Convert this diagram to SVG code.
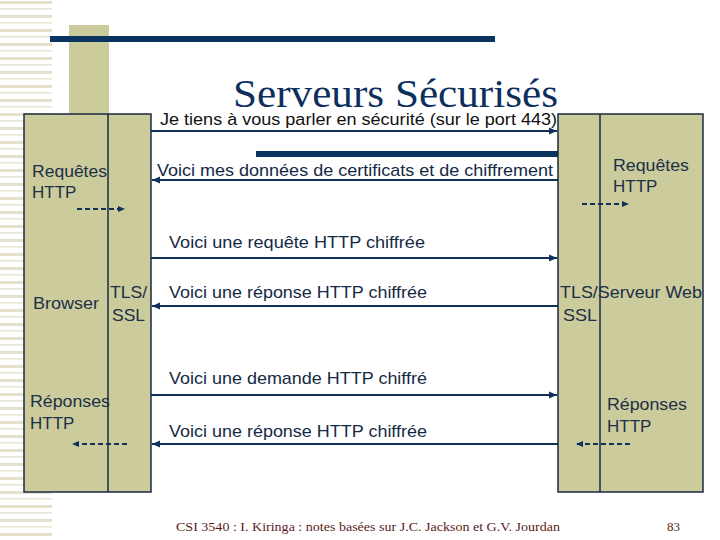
<svg xmlns="http://www.w3.org/2000/svg" width="720" height="540" viewBox="0 0 720 540">
<defs>
<pattern id="stripes" x="0" y="0" width="52" height="14" patternUnits="userSpaceOnUse">
<rect x="0" y="1" width="52" height="3" fill="#e4e2cc"/>
<rect x="0" y="8" width="52" height="1.6" fill="#e8e6d4"/>
</pattern>
<marker id="ah" markerUnits="userSpaceOnUse" markerWidth="9" markerHeight="8" refX="8" refY="4" orient="auto">
<path d="M0,0.5 L8,4 L0,7.5 z" fill="#10305a"/>
</marker>
<marker id="ahs" markerUnits="userSpaceOnUse" markerWidth="8" markerHeight="7" refX="7" refY="3.5" orient="auto">
<path d="M0,0.5 L7,3.5 L0,6.5 z" fill="#10305a"/>
</marker>
</defs>
<style>
.box{fill:#cccb9b;stroke:#1a2a40;stroke-width:1.5}
.div{stroke:#1a2a40;stroke-width:1.5}
.lbl{font-family:"Liberation Sans",Arial,sans-serif;font-size:17px;fill:#1c3048}
.msg{font-family:"Liberation Sans",Arial,sans-serif;font-size:17px;fill:#152a45}
.conn{stroke:#10305a;stroke-width:2;fill:none;marker-end:url(#ah)}
.dash{stroke:#10305a;stroke-width:2;fill:none;stroke-dasharray:5,3;marker-end:url(#ahs)}
</style>
<rect width="720" height="540" fill="#ffffff"/>
<rect x="0" y="0" width="52" height="540" fill="url(#stripes)"/>
<rect x="69" y="25" width="40" height="90" fill="#cccb9b"/>
<rect x="50" y="36" width="445" height="6" fill="#0b3360"/>
<rect x="256" y="151" width="302" height="6" fill="#0b3360"/>
<text x="233" y="107" font-family="'Liberation Serif','Times New Roman',serif" font-size="40" fill="#0d2f5e" textLength="325" lengthAdjust="spacingAndGlyphs">Serveurs Sécurisés</text>
<g id="browser">
<rect class="box" x="24" y="114" width="127" height="378"/>
<line class="div" x1="108" y1="114" x2="108" y2="492"/>
<text class="lbl" x="32" y="177" textLength="75" lengthAdjust="spacingAndGlyphs">Requêtes</text>
<text class="lbl" x="32" y="198">HTTP</text>
<text class="lbl" x="33" y="309" textLength="66" lengthAdjust="spacingAndGlyphs">Browser</text>
<text class="lbl" x="110" y="298" textLength="37" lengthAdjust="spacingAndGlyphs">TLS/</text>
<text class="lbl" x="112" y="321" textLength="33" lengthAdjust="spacingAndGlyphs">SSL</text>
<text class="lbl" x="30" y="407" textLength="80" lengthAdjust="spacingAndGlyphs">Réponses</text>
<text class="lbl" x="30" y="429">HTTP</text>
</g>
<g id="server">
<rect class="box" x="558" y="114" width="145" height="378"/>
<line class="div" x1="600" y1="114" x2="600" y2="492"/>
<text class="lbl" x="613" y="171" textLength="76" lengthAdjust="spacingAndGlyphs">Requêtes</text>
<text class="lbl" x="613" y="192">HTTP</text>
<text class="lbl" x="560" y="298" textLength="142" lengthAdjust="spacingAndGlyphs">TLS/Serveur Web</text>
<text class="lbl" x="563" y="321" textLength="34" lengthAdjust="spacingAndGlyphs">SSL</text>
<text class="lbl" x="607" y="410" textLength="80" lengthAdjust="spacingAndGlyphs">Réponses</text>
<text class="lbl" x="607" y="432">HTTP</text>
</g>
<g id="connectors">
<path class="conn" d="M151,131 H557"/>
<path class="conn" d="M558,180 H152"/>
<path class="conn" d="M151,258 H557"/>
<path class="conn" d="M558,306 H152"/>
<path class="conn" d="M151,395 H557"/>
<path class="conn" d="M558,444 H152"/>
<path class="dash" d="M77,209 H125"/>
<path class="dash" d="M582,204 H629"/>
<path class="dash" d="M127,444 H72"/>
<path class="dash" d="M630,444 H576"/>
</g>
<g id="labels">
<text x="160" y="125" font-family="'Liberation Sans',Arial,sans-serif" font-size="16" fill="#111111" textLength="397" lengthAdjust="spacingAndGlyphs">Je tiens à vous parler en sécurité (sur le port 443)</text>
<text class="msg" x="157" y="176" textLength="396" lengthAdjust="spacingAndGlyphs">Voici mes données de certificats et de chiffrement</text>
<text class="msg" x="169" y="248" textLength="256" lengthAdjust="spacingAndGlyphs">Voici une requête HTTP chiffrée</text>
<text class="msg" x="169" y="298" textLength="258" lengthAdjust="spacingAndGlyphs">Voici une réponse HTTP chiffrée</text>
<text class="msg" x="169" y="384" textLength="258" lengthAdjust="spacingAndGlyphs">Voici une demande HTTP chiffré</text>
<text class="msg" x="169" y="437" textLength="258" lengthAdjust="spacingAndGlyphs">Voici une réponse HTTP chiffrée</text>
</g>
<g id="footer" font-family="'Liberation Serif','Times New Roman',serif" font-size="13" fill="#5a1c1c">
<text x="176" y="531" textLength="384" lengthAdjust="spacingAndGlyphs">CSI 3540 : I. Kiringa : notes basées sur J.C. Jackson et G.V. Jourdan</text>
<text x="667" y="531">83</text>
</g>
</svg>
